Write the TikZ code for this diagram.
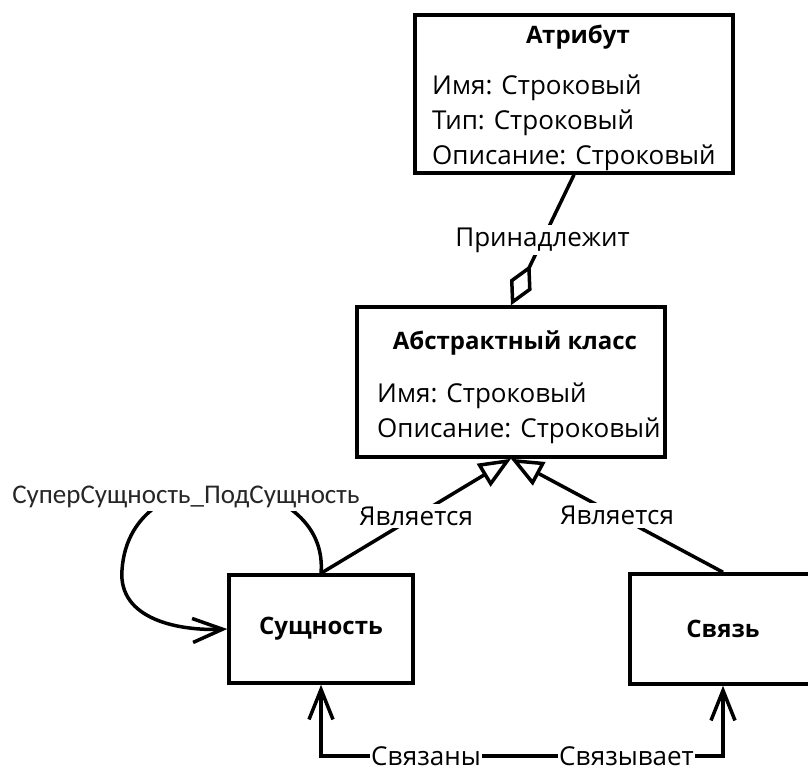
\documentclass[tikz,border=0pt]{standalone}
\usepackage{fontspec}
\setmainfont{Open Sans}
\newfontfamily\loopfont{Carlito}
\usepackage{tikz}
\usetikzlibrary{arrows.meta,positioning,calc}
\newcommand{\diagfont}{\fontsize{26}{35}\selectfont}
\newcommand{\namefont}{\fontsize{24}{30}\selectfont\bfseries}
\tikzstyle{classbox}=[draw,rectangle,line width=3.5pt,inner sep=0pt]
\tikzstyle{clstitle}=[font=\namefont,anchor=base,inner sep=0pt]
\tikzstyle{fields}=[align=left,anchor=north west,inner sep=0pt]
\tikzstyle{role}=[fill=white,inner sep=3pt]
\tikzstyle{assoc}=[line width=3.5pt,line join=miter]

\begin{document}
\begin{tikzpicture}[x=1pt,y=-1pt,font=\diagfont]
    \useasboundingbox (0,0) rectangle (808,775);
    \node [classbox,minimum width=318,minimum height=158] (attr) at (574,94) {};
    \node [clstitle] (attrT) at (578,44) {Атрибут};
    \node [fields] (attrF) at (432,75) {Имя: Строковый\\Тип: Строковый\\Описание: Строковый};

    \node [classbox,minimum width=308,minimum height=150] (abs) at (511,382) {};
    \node [clstitle] (absT) at (515,349) {Абстрактный класс};
    \node [fields] (absF) at (377,383) {Имя: Строковый\\Описание: Строковый};

    \node [classbox,minimum width=184,minimum height=108,font=\namefont] (ent) at (321,629) {Сущность};
    \node [classbox,minimum width=186,minimum height=110,font=\namefont] (rel) at (723,629) {Связь};

    \draw [assoc,-{Diamond[open,length=45pt,width=24pt]}] (attr.south) -- node [role] {Принадлежит} (abs.north);
    \draw [assoc,-{Triangle[open,length=32pt,width=26pt]}] (ent.north) -- node [role] {Является} (abs.south);
    \draw [assoc,-{Triangle[open,length=32pt,width=26pt]}] (rel.north) -- node [role] {Является} (abs.south);

    \coordinate (loopl) at (122,570);
    \draw [assoc,-{Straight Barb[length=30pt,width=24pt]}] (ent.north)
      .. controls (330,470) and (130,450) .. node [role,xshift=-42pt,yshift=-9pt,font=\fontsize{27}{30}\selectfont\loopfont,text=black!85] {СуперСущность\_ПодСущность} (loopl)
      .. controls (118,620) and (180,631) .. (ent.west);

    \coordinate (mid) at (526,756);
    \draw [assoc,{Straight Barb[length=30pt,width=24pt]}-{Straight Barb[length=30pt,width=24pt]}] (ent.south)
      |- node [role,inner sep=1pt,pos=0.756] {Связаны} (mid)
      -| node [role,inner sep=1pt,pos=0.255] {Связывает} (rel.south);
\end{tikzpicture}
\end{document}
